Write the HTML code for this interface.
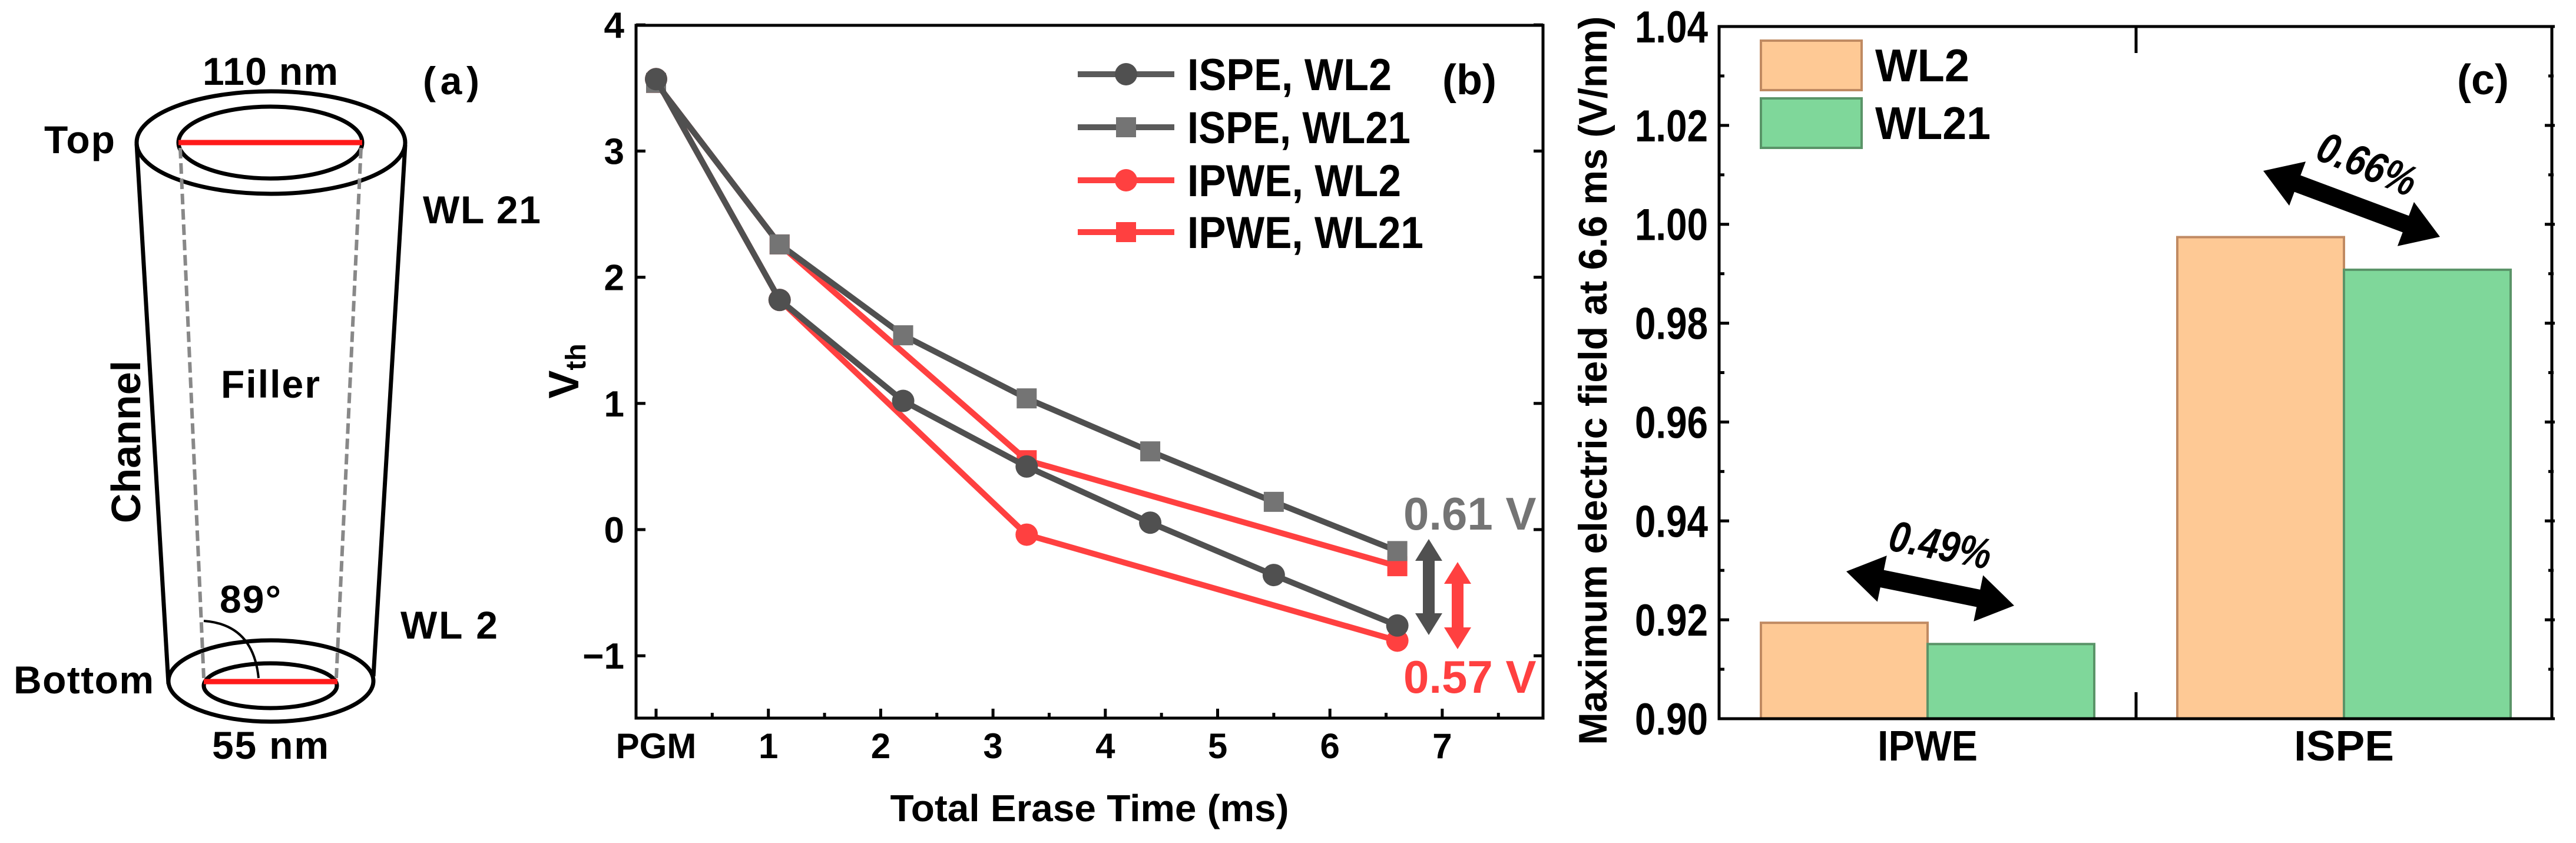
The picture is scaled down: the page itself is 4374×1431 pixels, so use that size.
<!DOCTYPE html>
<html><head><meta charset="utf-8"><style>
html,body{margin:0;padding:0;background:#fff;}
svg{display:block;font-family:"Liberation Sans",Arial,sans-serif;font-weight:bold;}
</style></head><body>
<svg id="fig" width="4374" height="1431" viewBox="0 0 4374 1431" xmlns="http://www.w3.org/2000/svg">
<!-- Panel (a) -->
<g id="panelA" fill="none" stroke="#000" stroke-width="7">
  <ellipse cx="460" cy="242" rx="228" ry="87"/>
  <ellipse cx="459" cy="242" rx="156" ry="61"/>
  <ellipse cx="460" cy="1156" rx="174" ry="69"/>
  <ellipse cx="459" cy="1164" rx="113" ry="38"/>
  <line x1="232" y1="244" x2="286" y2="1161"/>
  <line x1="688" y1="246" x2="634" y2="1148"/>
  <line x1="306" y1="251" x2="346" y2="1151" stroke="#888" stroke-width="6" stroke-dasharray="18,8"/>
  <line x1="613" y1="251" x2="571" y2="1151" stroke="#888" stroke-width="6" stroke-dasharray="18,8"/>
  <path d="M346 1054 Q430 1060 439 1151" stroke-width="4"/>
  <line x1="303" y1="242" x2="615" y2="242" stroke="#ff1a1a" stroke-width="9"/>
  <line x1="346" y1="1157" x2="573" y2="1157" stroke="#ff1a1a" stroke-width="9"/>
</g>
<g font-size="66" fill="#000">
  <text x="459" y="144" text-anchor="middle" textLength="230">110 nm</text>
  <text x="718" y="160" textLength="96">(a)</text>
  <text x="75" y="260" textLength="120">Top</text>
  <text x="718" y="379" textLength="200">WL 21</text>
  <text x="459" y="675" text-anchor="middle" textLength="168">Filler</text>
  <text transform="translate(238,750) rotate(-90)" text-anchor="middle" font-size="70">Channel</text>
  <text x="373" y="1040" textLength="104">89°</text>
  <text x="680" y="1084" textLength="165">WL 2</text>
  <text x="23" y="1177" textLength="238">Bottom</text>
  <text x="459" y="1288" text-anchor="middle" textLength="198">55 nm</text>
</g>
<g id="panelB"></g>
<g id="panelC"></g>
</svg>
<script>
// ---------- Panel (b) data ----------
const bXTicks = [0,1,2,3,4,5,6,7];
const bXTickLabels = ["PGM","1","2","3","4","5","6","7"];
const bYTicks = [-1,0,1,2,3,4];
const bYTickLabels = ["\u22121","0","1","2","3","4"];
const ispeX = [0,1.1,2.2,3.3,4.4,5.5,6.6];
const ispeWL2 = [3.57,1.82,1.02,0.50,0.055,-0.36,-0.76];
const ispeWL21 = [3.54,2.26,1.54,1.04,0.62,0.22,-0.17];
const ipweX = [0,1.1,3.3,6.6];
const ipweWL2 = [3.57,1.82,-0.04,-0.88];
const ipweWL21 = [3.54,2.26,0.55,-0.29];
const bLegend = ["ISPE, WL2","ISPE, WL21","IPWE, WL2","IPWE, WL21"];

// ---------- Panel (c) data ----------
const cCategories = ["IPWE","ISPE"];
const cWL2 = [0.9194,0.9974];
const cWL21 = [0.9151,0.9908];
const cYTicks = [0.90,0.92,0.94,0.96,0.98,1.00,1.02,1.04];
const cYTickLabels = ["0.90","0.92","0.94","0.96","0.98","1.00","1.02","1.04"];
const cDiffLabels = ["0.49%","0.66%"];

const NS = "http://www.w3.org/2000/svg";
function mk(parent, tag, attrs, txt){
  const e = document.createElementNS(NS, tag);
  for (const k in attrs) e.setAttribute(k, attrs[k]);
  if (txt !== undefined) e.textContent = txt;
  parent.appendChild(e);
  return e;
}

// ===== Panel B =====
(function(){
  const g = document.getElementById('panelB');
  const L=1080, R=2620, T=43, B=1219;
  const sx = v => 1114 + v*190.7;
  const sy = v => 899 - v*214.2;
  let box = mk(g,'rect',{x:L,y:T,width:R-L,height:B-T,fill:'none',stroke:'#000','stroke-width':5});
  
  
  bXTicks.forEach((v,i)=>{
    let t = mk(g,'line',{x1:sx(v),x2:sx(v),y1:B,y2:B-16,stroke:'#000','stroke-width':5});
    
    
    let m = mk(g,'line',{x1:sx(v+0.5),x2:sx(v+0.5),y1:B,y2:B-9,stroke:'#000','stroke-width':5});
    
    
    let lb = mk(g,'text',{x:sx(v),y:1287,'text-anchor':'middle','font-size':60},bXTickLabels[i]);
    
    
  });
  bYTicks.forEach((v,i)=>{
    let t = mk(g,'line',{x1:L,x2:L+16,y1:sy(v),y2:sy(v),stroke:'#000','stroke-width':5});
    
    
    let t2 = mk(g,'line',{x1:R,x2:R-16,y1:sy(v),y2:sy(v),stroke:'#000','stroke-width':5});
    
    
    let lb = mk(g,'text',{x:1060,y:sy(v)+22,'text-anchor':'end','font-size':62},bYTickLabels[i]);
    
    
  });
  let xt = mk(g,'text',{x:1850,y:1394,'text-anchor':'middle','font-size':64,textLength:677,lengthAdjust:'spacingAndGlyphs'},'Total Erase Time (ms)');
  
  
  let yt = mk(g,'text',{transform:'translate(982,630) rotate(-90)','text-anchor':'middle','font-size':72});
  
  
  yt.innerHTML = 'V<tspan font-size="48" dy="12">th</tspan>';
  let tag = mk(g,'text',{x:2449,y:160,'font-size':72},'(b)');
  
  

  function series(xs, ys, lineCol, markCol, shape, name){
    const sg = mk(g,'g',{});
    
    
    const pts = xs.map((x,i)=>sx(x)+','+sy(ys[i])).join(' ');
    let pl = mk(sg,'polyline',{points:pts,fill:'none',stroke:lineCol,'stroke-width':10,'stroke-linejoin':'round'});
    
    
    xs.forEach((x,i)=>{
      let m;
      if (shape==='circle') m = mk(sg,'circle',{cx:sx(x),cy:sy(ys[i]),r:19,fill:markCol});
      else m = mk(sg,'rect',{x:sx(x)-17,y:sy(ys[i])-17,width:34,height:34,fill:markCol});
      
      
    });
  }
  series(ipweX, ipweWL21, '#ff4040','#ff4040','square','series-ipwe-wl21');
  series(ipweX, ipweWL2, '#ff4040','#ff4040','circle','series-ipwe-wl2');
  series(ispeX, ispeWL21, '#505050','#747474','square','series-ispe-wl21');
  series(ispeX, ispeWL2, '#505050','#505050','circle','series-ispe-wl2');

  const lc = [['#5a5a5a','#505050','circle'],['#5a5a5a','#747474','square'],['#ff4040','#ff4040','circle'],['#ff4040','#ff4040','square']];
  const ly = [126,216,306,394];
  const lw = [347,379,363,401];
  bLegend.forEach((s,i)=>{
    const lg = mk(g,'g',{});
    
    
    mk(lg,'line',{x1:1830,x2:1994,y1:ly[i],y2:ly[i],stroke:lc[i][0],'stroke-width':10});
    if (lc[i][2]==='circle') mk(lg,'circle',{cx:1912,cy:ly[i],r:19,fill:lc[i][1]});
    else mk(lg,'rect',{x:1895,y:ly[i]-17,width:34,height:34,fill:lc[i][1]});
    mk(lg,'text',{x:2016,y:ly[i]+27,'font-size':76,textLength:lw[i],lengthAdjust:'spacingAndGlyphs'},s);
  });
  function varrow(x,y1,y2,col,name){
    const hw=23, hl=37, sw=10;
    const d = `M${x} ${y1} L${x+hw} ${y1+hl} L${x+sw} ${y1+hl} L${x+sw} ${y2-hl} L${x+hw} ${y2-hl} L${x} ${y2} L${x-hw} ${y2-hl} L${x-sw} ${y2-hl} L${x-sw} ${y1+hl} L${x-hw} ${y1+hl} Z`;
    let p = mk(g,'path',{d:d,fill:col});
    
    
  }
  varrow(2426,915,1078,'#505050','ispe-diff-arrow');
  varrow(2475,954,1102,'#ff4040','ipwe-diff-arrow');
  let a1 = mk(g,'text',{x:2383,y:899,'font-size':78,fill:'#747474'},'0.61 V');
  
  
  let a2 = mk(g,'text',{x:2383,y:1176,'font-size':78,fill:'#ff4040'},'0.57 V');
  
  
})();

// ===== Panel C =====
(function(){
  const g = document.getElementById('panelC');
  const L=2919, R=4333, T=45, B=1220;
  const y0=0.90, y1=1.04;
  const sy = v => B - (v-y0)/(y1-y0)*(B-T);
  const groupCenter = [3273, 3980];
  const bw = 283;
  cCategories.forEach((c,i)=>{
    let b1 = mk(g,'rect',{x:groupCenter[i]-bw,y:sy(cWL2[i]),width:bw,height:B-sy(cWL2[i]),fill:'#fec995',stroke:'#c08a62','stroke-width':4});
    
    
    let b2 = mk(g,'rect',{x:groupCenter[i],y:sy(cWL21[i]),width:bw,height:B-sy(cWL21[i]),fill:'#7fd79a',stroke:'#5a9468','stroke-width':4});
    
    
    let lb = mk(g,'text',{x:groupCenter[i],y:1291,'text-anchor':'middle','font-size':72,textLength:170,lengthAdjust:'spacingAndGlyphs'},c);
    
    
  });
  let box = mk(g,'rect',{x:L,y:T,width:R-L,height:B-T,fill:'none',stroke:'#000','stroke-width':5});
  
  
  let s1 = mk(g,'line',{x1:3627,x2:3627,y1:T,y2:T+45,stroke:'#000','stroke-width':5});
  
  
  let s2 = mk(g,'line',{x1:3627,x2:3627,y1:B,y2:B-45,stroke:'#000','stroke-width':5});
  
  
  cYTicks.forEach((v,i)=>{
    let t = mk(g,'line',{x1:L,x2:L+17,y1:sy(v),y2:sy(v),stroke:'#000','stroke-width':5});
    
    
    let t2 = mk(g,'line',{x1:R-12,x2:R+5,y1:sy(v),y2:sy(v),stroke:'#000','stroke-width':5});
    
    
    if (i < cYTicks.length-1) {
      let m = mk(g,'line',{x1:L,x2:L+9,y1:sy(v+0.01),y2:sy(v+0.01),stroke:'#000','stroke-width':5});
      
      
      let m2 = mk(g,'line',{x1:R-6,x2:R+3,y1:sy(v+0.01),y2:sy(v+0.01),stroke:'#000','stroke-width':5});
      
      
    }
    let lb = mk(g,'text',{x:2900,y:sy(v)+27,'text-anchor':'end','font-size':76,textLength:124,lengthAdjust:'spacingAndGlyphs'},cYTickLabels[i]);
    
    
  });
  let yt = mk(g,'text',{transform:'translate(2728,646) rotate(-90)','text-anchor':'middle','font-size':68,textLength:1237,lengthAdjust:'spacingAndGlyphs'},'Maximum electric field at 6.6 ms (V/nm)');
  
  
  let tag = mk(g,'text',{x:4172,y:160,'font-size':72},'(c)');
  
  
  let l1 = mk(g,'rect',{x:2990,y:69,width:171,height:84,fill:'#fec995',stroke:'#c08a62','stroke-width':4});
  
  
  let l2 = mk(g,'rect',{x:2990,y:167,width:171,height:84,fill:'#7fd79a',stroke:'#5a9468','stroke-width':4});
  
  
  let lt1 = mk(g,'text',{x:3184,y:138,'font-size':78,textLength:160,lengthAdjust:'spacingAndGlyphs'},'WL2');
  
  
  let lt2 = mk(g,'text',{x:3184,y:236,'font-size':78,textLength:196,lengthAdjust:'spacingAndGlyphs'},'WL21');
  
  
  function darrow(x1,y1,x2,y2,name){
    const dx=x2-x1, dy=y2-y1, len=Math.hypot(dx,dy), ang=Math.atan2(dy,dx)*180/Math.PI;
    const hw=40, hl=62, sw=15;
    const d = `M0 0 L${hl} ${-hw} L${hl} ${-sw} L${len-hl} ${-sw} L${len-hl} ${-hw} L${len} 0 L${len-hl} ${hw} L${len-hl} ${sw} L${hl} ${sw} L${hl} ${hw} Z`;
    let p = mk(g,'path',{d:d,fill:'#000',transform:`translate(${x1},${y1}) rotate(${ang})`});
    
    
  }
  darrow(3135,970,3420,1028,'ipwe-diff-arrow');
  darrow(3843,290,4143,402,'ispe-diff-arrow');
  let d1 = mk(g,'text',{transform:'translate(3290,950) rotate(11)','text-anchor':'middle','font-size':74,'font-style':'italic',textLength:175,lengthAdjust:'spacingAndGlyphs'},cDiffLabels[0]);
  
  
  let d2 = mk(g,'text',{transform:'translate(4010,302) rotate(22)','text-anchor':'middle','font-size':74,'font-style':'italic',textLength:175,lengthAdjust:'spacingAndGlyphs'},cDiffLabels[1]);
  
  
})();
</script>
</body></html>
